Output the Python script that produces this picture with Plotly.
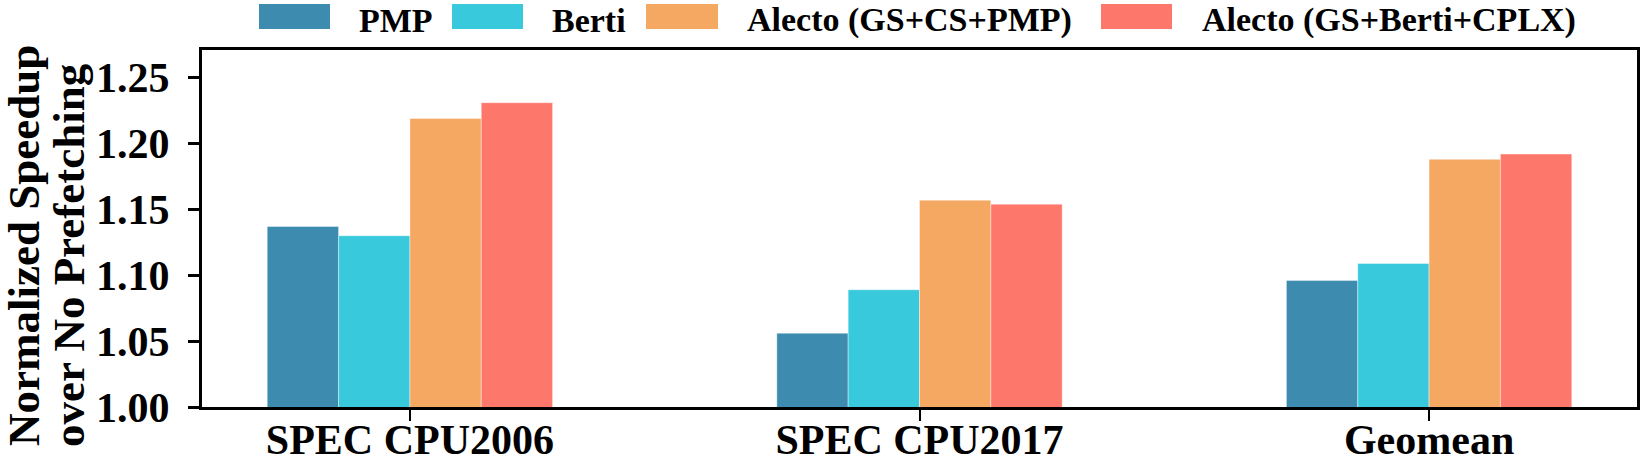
import plotly.graph_objects as go

categories = ["SPEC CPU2006", "SPEC CPU2017", "Geomean"]
series_names = ["PMP", "Berti", "Alecto (GS+CS+PMP)", "Alecto (GS+Berti+CPLX)"]
pmp = [1.137, 1.056, 1.096]
berti = [1.130, 1.089, 1.109]
alecto_cs = [1.219, 1.157, 1.188]
alecto_cplx = [1.231, 1.154, 1.192]
colors = ["#3d8caf", "#38c9dc", "#f5a862", "#fe776b"]

W, H = 1643, 465
L, R, T, B = 202, 6, 50, 58
PW, PH = W - L - R, H - T - B
FONT = "Liberation Serif, Times New Roman, serif"


def px_x(x):
    return (x - L) / PW


def px_y(y):
    return (H - B - y) / PH


fig = go.Figure()
for name, vals, col in zip(series_names, [pmp, berti, alecto_cs, alecto_cplx], colors):
    fig.add_trace(go.Bar(
        x=list(range(len(categories))), y=vals, name=name,
        marker=dict(color=col, line=dict(color="rgba(255,255,255,0.4)", width=1)),
        showlegend=False,
    ))

# legend drawn by hand so the swatches are wide like the original
legend_rects = [(259, 330), (452, 523), (646, 718), (1101, 1172)]
legend_text_x = [358, 551, 746, 1201]
for name, col, (x0, x1), tx in zip(series_names, colors, legend_rects, legend_text_x):
    fig.add_shape(type="rect", xref="paper", yref="paper",
                  x0=px_x(x0), x1=px_x(x1), y0=px_y(29), y1=px_y(4),
                  fillcolor=col, line=dict(width=0))
    fig.add_annotation(text=name, xref="paper", yref="paper", x=px_x(tx), y=px_y(20),
                       xanchor="left", yanchor="middle", showarrow=False, borderpad=0,
                       font=dict(family=FONT, size=34, color="black", weight="bold"))

# two-line y title
fig.add_annotation(text="Normalized Speedup", xref="paper", yref="paper",
                   x=px_x(24), y=px_y(246), textangle=-90, showarrow=False, borderpad=0,
                   xanchor="center", yanchor="middle",
                   font=dict(family=FONT, size=45, color="black", weight="bold"))
fig.add_annotation(text="over No Prefetching", xref="paper", yref="paper",
                   x=px_x(69), y=px_y(255), textangle=-90, showarrow=False, borderpad=0,
                   xanchor="center", yanchor="middle",
                   font=dict(family=FONT, size=45, color="black", weight="bold"))

fig.update_layout(
    width=W, height=H,
    margin=dict(l=L, r=R, t=T, b=B, autoexpand=False),
    barmode="group", bargap=0.44, bargroupgap=0,
    plot_bgcolor="white", paper_bgcolor="white",
    font=dict(family=FONT, color="black"),
    xaxis=dict(
        range=[-0.408, 2.408], tickmode="array",
        tickvals=list(range(len(categories))), ticktext=categories,
        ticks="outside", ticklen=11, tickwidth=2, tickcolor="black",
        ticklabelstandoff=-17,
        showline=True, linecolor="black", linewidth=3, mirror=True,
        showgrid=False, zeroline=False, automargin=False,
        tickfont=dict(family=FONT, size=42, color="black", weight="bold"),
    ),
    yaxis=dict(
        range=[1.0, 1.271], tickmode="array",
        tickvals=[1.00, 1.05, 1.10, 1.15, 1.20, 1.25], tickformat=".2f",
        ticks="outside", ticklen=11, tickwidth=3, tickcolor="black",
        ticklabelstandoff=10,
        showline=True, linecolor="black", linewidth=3, mirror=True,
        showgrid=False, zeroline=False, automargin=False,
        tickfont=dict(family=FONT, size=42, color="black", weight="bold"),
    ),
)

fig.write_html("out.html", config={"displayModeBar": False},
               post_script="document.body.style.margin = '0';")
